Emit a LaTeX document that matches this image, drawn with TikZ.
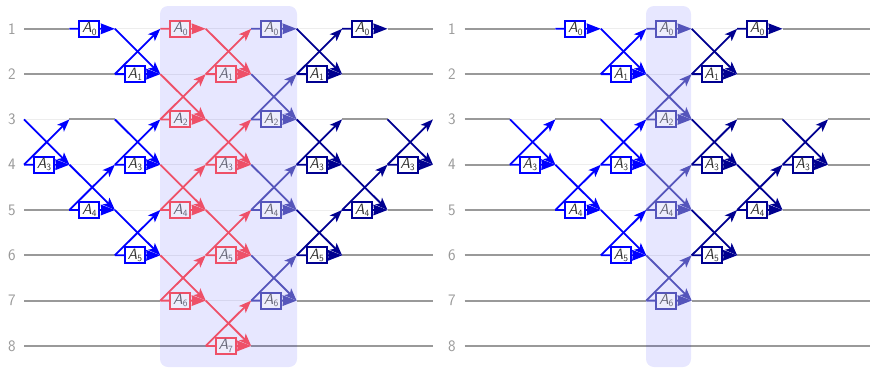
\documentclass[tikz,border=0pt]{standalone}
\usepackage{fontspec}
\usetikzlibrary{arrows.meta,calc}
\definecolor{bluegate}{HTML}{0000FF}
\definecolor{redgate}{HTML}{EE5068}
\definecolor{purplegate}{HTML}{5555BB}
\definecolor{navygate}{HTML}{000090}
\definecolor{wiregray}{HTML}{999999}
\definecolor{faintgray}{HTML}{EDEDED}
\definecolor{bandcol}{HTML}{E6E6FB}
\definecolor{dimtext}{HTML}{666677}
\tikzset{
  x=1pt,y=-1pt,
  wire/.style={wiregray,line width=2pt},
  faint/.style={faintgray,line width=.7pt},
  seg/.style={line width=1.8pt},
  tipped/.style={seg,-{Stealth[length=12.5pt,width=9.5pt,inset=3pt]}},
  headed/.style={seg,shorten <=-1pt,-{Stealth[length=14pt,width=10.5pt,inset=.5pt]}},
  gatebox/.style={draw,line width=2pt,minimum width=20pt,minimum height=16pt,inner sep=0pt,fill=white,text=black!80},
  inband/.style={fill=bandcol!70!white,text=dimtext},
  wirelabel/.style={text=wiregray,font=\sffamily\fontsize{16}{16}\selectfont,inner sep=0pt},
  bandrect/.style={fill=blue,fill opacity=.095,rounded corners=8pt},
}
\newcommand\gatetext[1]{{\sffamily\slshape\fontsize{15}{15}\selectfont A\raisebox{-.35ex}{\fontsize{9.5}{9.5}\selectfont\upshape #1}}}
% prefix, col, row, index, colour, extra style
\newcommand\plaingate[6]{%
  \pgfmathtruncatemacro\nxt{#2+1}%
  \draw[seg,#5] (#1c#2-#3) -- ($(#1c#2-#3)!0.3!(#1c\nxt-#3)$);
  \node[gatebox,draw=#5,#6] (#1g#2-#3) at ($(#1c#2-#3)!0.44!(#1c\nxt-#3)$) {\gatetext{#4}};
  \draw[headed,#5] (#1g#2-#3.east) -- (#1c\nxt-#3);
}
\newcommand\crossgate[6]{%
  \pgfmathtruncatemacro\nxt{#2+1}%
  \pgfmathtruncatemacro\prv{#3-1}%
  \draw[tipped,#5] (#1c#2-\prv) -- (#1c\nxt-#3);
  \draw[tipped,#5] (#1c#2-#3) -- (#1c\nxt-\prv);
  \plaingate{#1}{#2}{#3}{#4}{#5}{#6}
}
\newcommand\graywire[4]{\draw[wire] (#1c#2-#4) -- (#1c#3-#4);}
\begin{document}
\begin{tikzpicture}
\useasboundingbox (0,0) rectangle (870,367);
\clip (0,0) rectangle (870,367);
\foreach \c in {0,...,9}{
  \foreach \r in {1,...,8}{
    \coordinate (Lc\c-\r) at ({24+45.44*\c},{28.8+45.3*(\r-1)});
    \coordinate (Rc\c-\r) at ({464.5+45.44*\c},{28.8+45.3*(\r-1)});
  }
}
\foreach \r in {1,...,8}{
  \node[wirelabel] (Ll\r) at (12,{28.8+45.3*(\r-1)}) {\r};
  \node[wirelabel] (Rl\r) at (452,{28.8+45.3*(\r-1)}) {\r};
  \draw[faint] (Lc0-\r) -- (Lc9-\r);
  \draw[faint] (Rc0-\r) -- (Rc9-\r);
}
% left gray wires
\graywire{L}{0}{1}{1}\graywire{L}{8}{9}{1}
\graywire{L}{0}{2}{2}\graywire{L}{7}{9}{2}
\graywire{L}{1}{2}{3}\graywire{L}{7}{8}{3}
\graywire{L}{0}{1}{5}\graywire{L}{8}{9}{5}
\graywire{L}{0}{2}{6}\graywire{L}{7}{9}{6}
\graywire{L}{0}{3}{7}\graywire{L}{6}{9}{7}
\graywire{L}{0}{4}{8}\graywire{L}{5}{9}{8}
% right gray wires
\graywire{R}{0}{2}{1}\graywire{R}{7}{9}{1}
\graywire{R}{0}{3}{2}\graywire{R}{6}{9}{2}
\graywire{R}{0}{1}{3}\graywire{R}{2}{3}{3}\graywire{R}{6}{7}{3}\graywire{R}{8}{9}{3}
\graywire{R}{0}{1}{4}\graywire{R}{8}{9}{4}
\graywire{R}{0}{2}{5}\graywire{R}{7}{9}{5}
\graywire{R}{0}{3}{6}\graywire{R}{6}{9}{6}
\graywire{R}{0}{4}{7}\graywire{R}{5}{9}{7}
\graywire{R}{0}{9}{8}
% bands
\fill[bandrect] (160,6) rectangle (297,367);
\fill[bandrect] (646,6) rectangle (691,367);
% left gates
\crossgate{L}{0}{4}{3}{bluegate}{}
\plaingate{L}{1}{1}{0}{bluegate}{}
\crossgate{L}{1}{5}{4}{bluegate}{}
\crossgate{L}{2}{2}{1}{bluegate}{}
\crossgate{L}{2}{4}{3}{bluegate}{}
\crossgate{L}{2}{6}{5}{bluegate}{}
\plaingate{L}{3}{1}{0}{redgate}{inband}
\crossgate{L}{3}{3}{2}{redgate}{inband}
\crossgate{L}{3}{5}{4}{redgate}{inband}
\crossgate{L}{3}{7}{6}{redgate}{inband}
\crossgate{L}{4}{2}{1}{redgate}{inband}
\crossgate{L}{4}{4}{3}{redgate}{inband}
\crossgate{L}{4}{6}{5}{redgate}{inband}
\crossgate{L}{4}{8}{7}{redgate}{inband}
\plaingate{L}{5}{1}{0}{purplegate}{inband}
\crossgate{L}{5}{3}{2}{purplegate}{inband}
\crossgate{L}{5}{5}{4}{purplegate}{inband}
\crossgate{L}{5}{7}{6}{purplegate}{inband}
\crossgate{L}{6}{2}{1}{navygate}{}
\crossgate{L}{6}{4}{3}{navygate}{}
\crossgate{L}{6}{6}{5}{navygate}{}
\plaingate{L}{7}{1}{0}{navygate}{}
\crossgate{L}{7}{5}{4}{navygate}{}
\crossgate{L}{8}{4}{3}{navygate}{}
% right gates
\crossgate{R}{1}{4}{3}{bluegate}{}
\plaingate{R}{2}{1}{0}{bluegate}{}
\crossgate{R}{2}{5}{4}{bluegate}{}
\crossgate{R}{3}{2}{1}{bluegate}{}
\crossgate{R}{3}{4}{3}{bluegate}{}
\crossgate{R}{3}{6}{5}{bluegate}{}
\plaingate{R}{4}{1}{0}{purplegate}{inband}
\crossgate{R}{4}{3}{2}{purplegate}{inband}
\crossgate{R}{4}{5}{4}{purplegate}{inband}
\crossgate{R}{4}{7}{6}{purplegate}{inband}
\crossgate{R}{5}{2}{1}{navygate}{}
\crossgate{R}{5}{4}{3}{navygate}{}
\crossgate{R}{5}{6}{5}{navygate}{}
\plaingate{R}{6}{1}{0}{navygate}{}
\crossgate{R}{6}{5}{4}{navygate}{}
\crossgate{R}{7}{4}{3}{navygate}{}
\end{tikzpicture}
\end{document}
